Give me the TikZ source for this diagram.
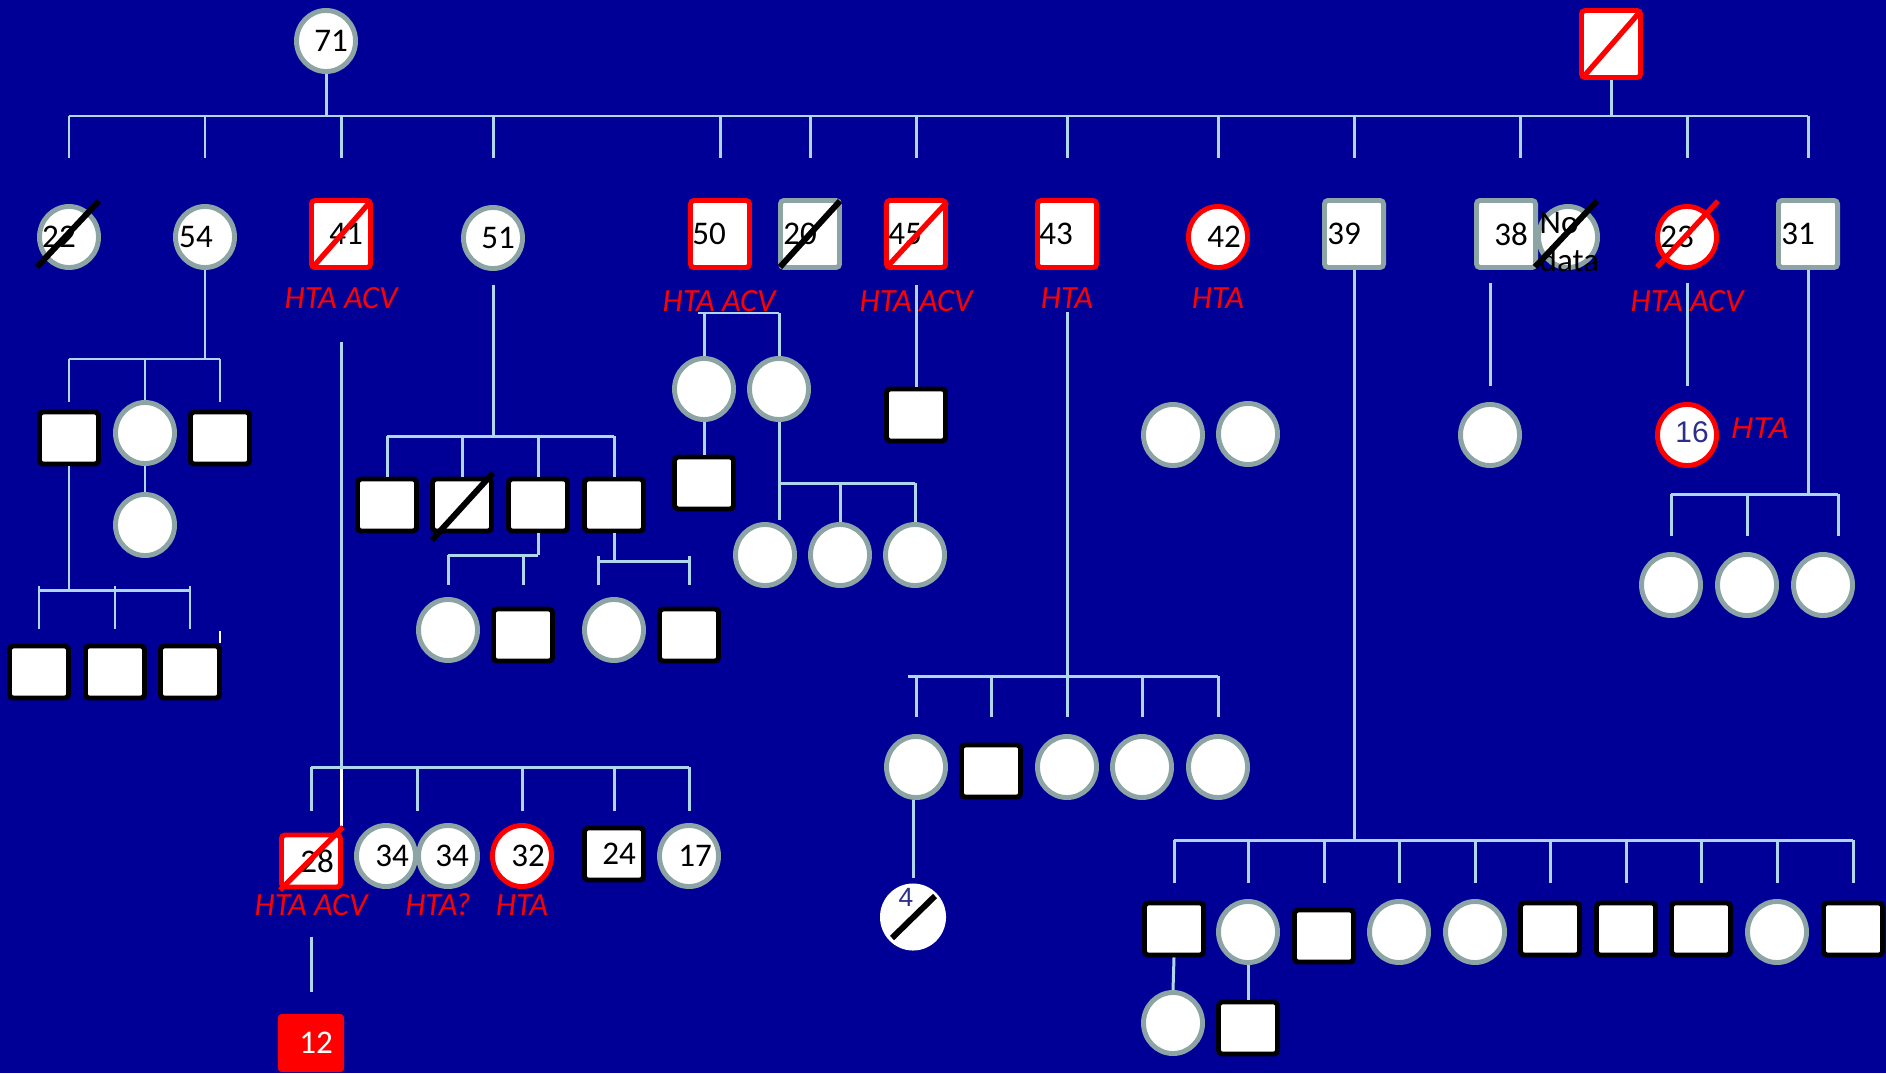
\documentclass[tikz,border=0pt]{standalone}
\usepackage{fontspec}
\setmainfont{Carlito}
\newfontfamily\arialfont{Liberation Sans}
\usetikzlibrary{calc,shapes.geometric}
\definecolor{bg}{RGB}{0,0,150}
\definecolor{linecol}{RGB}{175,215,235}
\definecolor{grayb}{RGB}{140,164,164}
\definecolor{navy}{RGB}{45,45,140}

\begin{document}
\begin{tikzpicture}[x=0.01cm,y=-0.01cm]
\tikzstyle{ln}=[draw=linecol,line width=0.85pt]
\tikzstyle{fem}=[ellipse,draw=grayb,fill=white,line width=1.4pt,
minimum width=0.59cm,minimum height=0.61cm,inner sep=0pt]
\tikzstyle{femr}=[fem,draw=red]
\tikzstyle{mal}=[rectangle,draw=black,fill=white,line width=1.4pt,
minimum width=0.59cm,minimum height=0.52cm,inner sep=0pt,rounded corners=1pt]
\tikzstyle{malt}=[mal,minimum height=0.67cm]
\tikzstyle{malg}=[malt,draw=grayb]
\tikzstyle{malr}=[malt,draw=red]
\tikzstyle{num}=[font=\fontsize{9.4}{11}\selectfont,text=black,inner sep=0pt]
\tikzstyle{dx}=[text=red,font=\fontsize{9.2}{11}\selectfont\itshape,inner sep=0pt]
\tikzstyle{kslash}=[black,line width=1.7pt]
\tikzstyle{rslash}=[red,line width=1.5pt]
\tikzset{nb/.style 2 args={label={[num,xshift=#1]center:#2}}}
\useasboundingbox (0,0) rectangle (1886,1073);
\fill[bg] (0,0) rectangle (1886,1073);

% generation I
\node[fem,nb={0.05cm}{71}] (p71) at (326,41) {};
\node[malr] (gpa) at (1611,44) {};

% generation II
\node[fem,nb={-0.1cm}{22}] (p22) at (69,237) {};
\node[fem,nb={-0.09cm}{54}] (p54) at (205,237) {};
\node[malr,nb={0.05cm}{41}] (p41) at (341,234) {};
\node[fem,nb={0.05cm}{51}] (p51) at (493,238) {};
\node[malr,nb={-0.11cm}{50}] (p50) at (720,234) {};
\node[malg,nb={-0.1cm}{20}] (p20) at (810,234) {};
\node[malr,nb={-0.11cm}{45}] (p45) at (916,234) {};
\node[malr,nb={-0.11cm}{43}] (p43) at (1067,234) {};
\node[femr,nb={0.06cm}{42}] (p42) at (1218,237) {};
\node[malg,nb={-0.1cm}{39}] (p39) at (1354,234) {};
\node[malg,nb={0.05cm}{38}] (p38) at (1506,234) {};
\node[fem] (pnd) at (1568,237) {};
\node[num,align=left,anchor=west,font=\fontsize{9.4}{10.8}\selectfont] (ndt) at (1539,242) {No\\data};
\node[femr,nb={-0.1cm}{23}] (p23) at (1687,237) {};
\node[malg,nb={-0.1cm}{31}] (p31) at (1808,234) {};

\node[dx] (t41) at (341,298) {HTA ACV};
\node[dx] (t50) at (719,301) {HTA ACV};
\node[dx] (t45) at (916,301) {HTA ACV};
\node[dx] (t43) at (1067,298) {HTA};
\node[dx] (t42) at (1218,298) {HTA};
\node[dx] (t23) at (1687,301) {HTA ACV};

% children of 54
\node[mal] (q54a) at (69,438) {};
\node[fem] (q54b) at (145,433) {};
\node[mal] (q54c) at (220,438) {};
\node[fem] (q54d) at (145,525) {};
\node[mal] (r54a) at (39,672) {};
\node[mal] (r54b) at (115,672) {};
\node[mal] (r54c) at (190,672) {};

% children of 41
\node[mal,draw=red,nb={0.06cm}{28}] (p28) at (311,861) {};
\node[fem,nb={0.06cm}{34}] (p34a) at (386,856) {};
\node[fem,nb={0.04cm}{34}] (p34b) at (448,856) {};
\node[femr,nb={0.06cm}{32}] (p32) at (522,856) {};
\node[mal,nb={0.05cm}{24}] (p24) at (614,854) {};
\node[fem,nb={0.06cm}{17}] (p17) at (689,856) {};
\node[fill=red,minimum width=0.66cm,minimum height=0.58cm,rounded corners=1pt,
label={[num,text=white,xshift=0.05cm]center:12}] (p12) at (311,1043) {};
\node[dx] (t28) at (311,905) {HTA ACV};
\node[dx] (t34) at (438,905) {HTA?};
\node[dx] (t32) at (522,905) {HTA};

% children of 51
\node[mal] (q51a) at (387,505) {};
\node[mal] (q51b) at (462,505) {};
\node[mal] (q51c) at (538,505) {};
\node[mal] (q51d) at (614,505) {};
\node[fem] (r51a) at (448,630) {};
\node[mal] (r51b) at (523,635) {};
\node[fem] (r51c) at (614,630) {};
\node[mal] (r51d) at (689,635) {};

% children of 50 and 45
\node[fem] (q50a) at (704,389) {};
\node[fem] (q50b) at (779,389) {};
\node[mal] (s50) at (704,483) {};
\node[fem] (r50a) at (765,555) {};
\node[fem] (r50b) at (840,555) {};
\node[fem] (r50c) at (915,555) {};
\node[mal] (s45) at (916,415) {};

% children of 43 and 42
\node[fem] (r43a) at (916,767) {};
\node[mal] (r43b) at (991,771) {};
\node[fem] (r43c) at (1067,767) {};
\node[fem] (r43d) at (1142,767) {};
\node[fem] (r43e) at (1218,767) {};
\node[ellipse,fill=white,minimum width=0.66cm,minimum height=0.67cm,inner sep=0pt,
label={[font=\arialfont\fontsize{7.5}{9}\selectfont,text=navy,inner sep=0pt,xshift=-0.07cm,yshift=0.2cm]center:4}] (s43) at (913,917) {};
\node[fem] (q42a) at (1173,435) {};
\node[fem] (q42b) at (1248,434) {};

% children of 39
\node[mal] (k1) at (1174,929) {};
\node[fem] (k2) at (1248,932) {};
\node[mal] (k3) at (1324,936) {};
\node[fem] (k4) at (1399,932) {};
\node[fem] (k5) at (1475,932) {};
\node[mal] (k6) at (1550,929) {};
\node[mal] (k7) at (1626,929) {};
\node[mal] (k8) at (1701,929) {};
\node[fem] (k9) at (1777,932) {};
\node[mal] (k10) at (1853,929) {};
\node[fem] (l1) at (1173,1023) {};
\node[mal] (l2) at (1248,1028) {};

% children of 38, 23, 31
\node[fem] (q38) at (1490,435) {};
\node[femr,label={[font=\arialfont\fontsize{8.5}{10}\selectfont,text=navy,inner sep=0pt,xshift=0.05cm,yshift=0.03cm]center:16}] (q23) at (1687,435) {};
\node[dx,font=\arialfont\fontsize{8.5}{10}\selectfont\itshape] (t16) at (1760,428) {HTA};
\node[fem] (q31a) at (1671,585) {};
\node[fem] (q31b) at (1747,585) {};
\node[fem] (q31c) at (1823,585) {};

% lines, top
\coordinate (barL) at (p22.north |- 0,116);
\coordinate (barR) at (p31.north |- 0,116);
\draw[ln] (barL) -- (barR);
\draw[ln] (p71.south) -- (p71.south |- barL);
\draw[ln] (gpa.south) -- (gpa.south |- barL);
\foreach \p in {p22,p54,p41,p51,p50,p20,p45,p43,p42,p39,p23,p31}
  \draw[ln] (\p.north |- barL) -- ++(0,42);
\coordinate (d38) at (1520,116);
\draw[ln] (d38) -- ++(0,42);

% lines, 54
\coordinate (b54) at (0,359);
\draw[ln] (p54.south) -- (p54.south |- b54);
\draw[ln] (q54a.north |- b54) -- (q54c.north |- b54);
\draw[ln] (q54a.north |- b54) -- ++(0,43);
\draw[ln] (q54b.north |- b54) -- (q54b.north);
\draw[ln] (q54c.north |- b54) -- ++(0,43);
\draw[ln] (q54b.south) -- (q54d.north);
\draw[ln] (q54a.south) -- (q54a.south |- 0,590);
\draw[ln] (r54a.north |- 0,590) -- (r54c.north |- 0,590);
\foreach \p in {r54a,r54b,r54c} \draw[ln] (\p.north |- 0,586) -- ++(0,43);
\coordinate (tk) at (220,631);
\draw[white,line width=0.85pt] (tk) -- ++(0,12);

% lines, 41
\coordinate (d41) at (341,342);
\coordinate (b28) at (0,767);
\draw[ln] (d41) -- (d41 |- b28);
\draw[white,line width=0.85pt] (d41 |- b28) -- (d41 |- 0,826);
\coordinate (tw) at ($(p34a.north)!0.5!(p34b.north)$);
\draw[ln] (p28.north |- b28) -- (p17.north |- b28);
\foreach \p in {p28,tw,p32,p24,p17} \draw[ln] (\p |- b28) -- ++(0,44);
\draw[ln] ([yshift=-0.47cm]p28.south) -- ([yshift=0.21cm]p12.north);

% lines, 51
\coordinate (b51) at (0,436);
\draw[ln] ([yshift=-0.14cm]p51.south) -- (p51.south |- b51);
\draw[ln] (q51a.north |- b51) -- (q51d.north |- b51);
\foreach \p in {q51a,q51b,q51c,q51d} \draw[ln] (\p.north |- b51) -- (\p.north);
\draw[ln] (q51c.south) -- (q51c.south |- 0,555);
\draw[ln] (r51a.north |- 0,555) -- (q51c.south |- 0,555);
\draw[ln] (r51a.north |- 0,555) -- ++(0,30);
\draw[ln] (r51b.north |- 0,555) -- ++(0,30);
\draw[ln] (q51d.south) -- (q51d.south |- 0,561);
\coordinate (d51) at (598,561);
\draw[ln] (d51) -- (r51d.north |- d51);
\draw[ln] (d51) ++(0,-5) -- ++(0,29);
\draw[ln] (r51d.north |- 0,556) -- ++(0,29);

% lines, 50 and 45
\coordinate (b50) at (698,313);
\draw[ln] (b50) -- (q50b.north |- b50);
\draw[ln] (q50a.north |- b50) -- (q50a.north);
\draw[ln] (q50b.north |- b50) -- (q50b.north);
\draw[ln] (q50a.south) -- (s50.north);
\draw[ln] (q50b.south) -- (q50b.south |- 0,520);
\draw[ln] (q50b.south |- 0,483) -- (r50c.north |- 0,483);
\draw[ln] (r50b.north |- 0,483) -- (r50b.north);
\draw[ln] (r50c.north |- 0,483) -- (r50c.north);
\draw[ln] ([yshift=-0.15cm]p45.south) -- (s45.north);

% lines, 43
\coordinate (b43) at (908,676);
\draw[ln] ([yshift=-0.42cm]p43.south) -- (p43.south |- b43);
\draw[ln] (b43) -- (r43e.north |- b43);
\foreach \p in {r43a,r43b,r43c,r43d,r43e} \draw[ln] (\p.north |- b43) -- ++(0,41);
\draw[ln] (s43.north |- r43a.south) -- ([yshift=0.05cm]s43.north);

% lines, 39
\coordinate (b39) at (0,840);
\draw[ln] (p39.south) -- (p39.south |- b39);
\draw[ln] (k1.north |- b39) -- (k10.north |- b39);
\foreach \p in {k1,k2,k3,k4,k5,k6,k7,k8,k9,k10} \draw[ln] (\p.north |- b39) -- ++(0,43);
\draw[ln] (k1.south) -- (l1.north);
\draw[ln] (k2.south) -- (l2.north);

% lines, 38, 23, 31
\coordinate (d38b) at (1490,283);
\draw[ln] (d38b) -- ([yshift=0.16cm]q38.north);
\draw[ln] ([yshift=-0.13cm]p23.south) -- ([yshift=0.16cm]q23.north);
\coordinate (b31) at (0,494);
\coordinate (b31r) at (1838,494);
\draw[ln] (p31.south) -- (p31.south |- b31);
\draw[ln] (q31a.north |- b31) -- (b31r);
\draw[ln] (q31a.north |- b31) -- ++(0,42);
\draw[ln] (q31b.north |- b31) -- ++(0,42);
\draw[ln] (b31r) -- ++(0,42);

% deceased
\draw[kslash] ($(p22)+(-32,30)$) -- ($(p22)+(30,-36)$);
\draw[kslash] ($(p20)+(-30,33)$) -- ($(p20)+(30,-33)$);
\draw[kslash] ($(pnd)+(-33,30)$) -- ($(pnd)+(29,-36)$);
\draw[kslash] ($(q51b)+(-30,35)$) -- ($(q51b)+(31,-32)$);
\draw[kslash] ($(s43)+(-21,21)$) -- ($(s43)+(22,-21)$);
\draw[rslash] ($(gpa)+(-26,31)$) -- ($(gpa)+(28,-31)$);
\draw[rslash] ($(p41)+(-28,33)$) -- ($(p41)+(29,-32)$);
\draw[rslash] ($(p45)+(-29,33)$) -- ($(p45)+(31,-32)$);
\draw[rslash] ($(p23)+(-30,30)$) -- ($(p23)+(31,-36)$);
\draw[rslash] ($(p28)+(-31,29)$) -- ($(p28)+(32,-34)$);
\end{tikzpicture}
\end{document}
